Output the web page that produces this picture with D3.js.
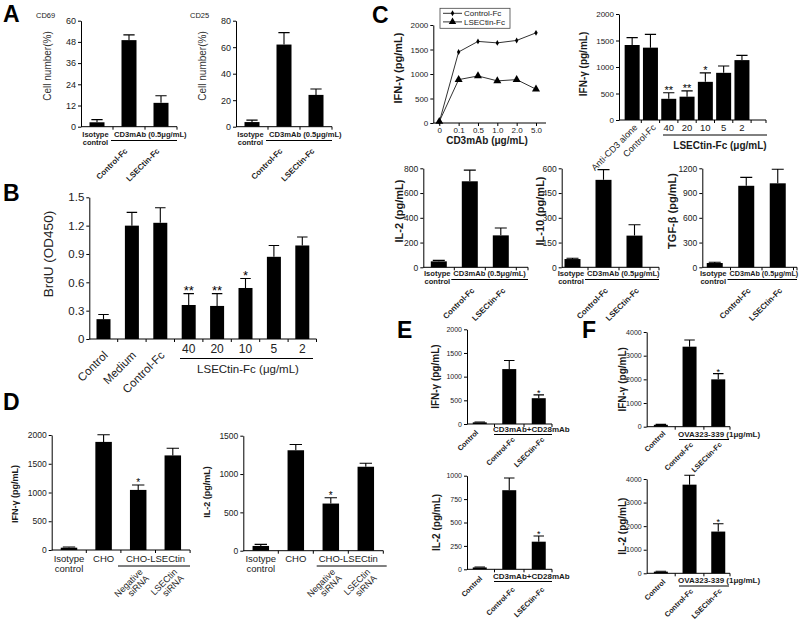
<!DOCTYPE html>
<html><head><meta charset="utf-8">
<script src="https://cdn.jsdelivr.net/npm/d3@7"></script>
<style>body{margin:0;background:#fff}svg{display:block;font-family:"Liberation Sans",Arial,sans-serif}</style>
</head><body><svg id="c" width="800" height="621"></svg>
<script>
// ---------------- DATA ----------------
const A_groups = ["Isotype control", "Control-Fc", "LSECtin-Fc"];
const A_cd69_values = [2.5, 49, 13.5];
const A_cd69_errors = [1.5, 3, 4];
const A_cd69_ticks = [0, 12, 24, 36, 48, 60];
const A_cd25_values = [3.5, 62, 24];
const A_cd25_errors = [1.5, 9, 4.5];
const A_cd25_ticks = [0, 20, 40, 60, 80];

const B_categories = ["Control", "Medium", "Control-Fc", "40", "20", "10", "5", "2"];
const B_values = [0.21, 1.20, 1.23, 0.36, 0.35, 0.54, 0.87, 0.99];
const B_errors = [0.05, 0.14, 0.16, 0.12, 0.13, 0.10, 0.12, 0.09];
const B_sig = ["", "", "", "**", "**", "*", "", ""];
const B_ticks = [0, 0.3, 0.6, 0.9, 1.2, 1.5];

const C_dose = ["0", "0.1", "0.5", "1.0", "2.0", "5.0"];
const C_series = ["Control-Fc", "LSECtin-Fc"];
const C_controlFc = [20, 1450, 1665, 1635, 1685, 1840];
const C_lsectinFc = [30, 885, 960, 860, 885, 690];
const C_ifn_ticks = [0, 500, 1000, 1500, 2000];

const C_conc_categories = ["Anti-CD3 alone", "Control-Fc", "40", "20", "10", "5", "2"];
const C_conc_values = [1415, 1365, 400, 440, 720, 890, 1130];
const C_conc_errors = [140, 250, 115, 110, 170, 130, 90];
const C_conc_sig = ["", "", "**", "**", "*", "", ""];

const C_il2_values = [48, 695, 258];
const C_il2_errors = [8, 90, 60];
const C_il2_ticks = [0, 200, 400, 600, 800];
const C_il10_values = [50, 530, 192];
const C_il10_errors = [5, 62, 66];
const C_il10_ticks = [0, 150, 300, 450, 600];
const C_tgf_values = [52, 988, 1018];
const C_tgf_errors = [10, 102, 170];
const C_tgf_ticks = [0, 300, 600, 900, 1200];

const D_groups = ["Isotype control", "CHO", "Negative siRNA", "LSECtin siRNA"];
const D_ifn_values = [40, 1880, 1045, 1645];
const D_ifn_errors = [12, 125, 85, 125];
const D_ifn_sig = ["", "", "*", ""];
const D_ifn_ticks = [0, 500, 1000, 1500, 2000];
const D_il2_values = [62, 1310, 615, 1095];
const D_il2_errors = [20, 75, 75, 45];
const D_il2_sig = ["", "", "*", ""];
const D_il2_ticks = [0, 500, 1000, 1500];

const EF_groups = ["Control", "Control-Fc", "LSECtin-Fc"];
const E_ifn_values = [35, 1160, 545];
const E_ifn_errors = [8, 180, 70];
const E_ifn_ticks = [0, 500, 1000, 1500, 2000];
const E_il2_values = [20, 845, 295];
const E_il2_errors = [5, 130, 60];
const E_il2_ticks = [0, 250, 500, 750, 1000];
const F_ifn_values = [80, 3380, 2000];
const F_ifn_errors = [20, 280, 240];
const F_il2_values = [70, 3760, 1770];
const F_il2_errors = [20, 400, 330];
const F_ticks = [0, 1000, 2000, 3000, 4000];
const EF_sig = ["", "", "*"];

// ---------------- HELPERS ----------------
const svg = d3.select("#c");
const INK = "#1a1a1a";

function txt(g, x, y, s, o = {}) {
  const t = g.append("text").attr("x", x).attr("y", y).text(s)
    .attr("font-size", o.size || 9).attr("font-weight", o.weight || "normal")
    .attr("text-anchor", o.anchor || "start").attr("fill", o.fill || INK);
  if (o.rotate != null) t.attr("transform", `rotate(${o.rotate},${x},${y})`);
  return t;
}
function hline(g, x1, x2, y) {
  g.append("line").attr("x1", x1).attr("x2", x2).attr("y1", y).attr("y2", y)
    .attr("stroke", "#000").attr("stroke-width", 1);
}

function barPanel(o) {
  const g = svg.append("g");
  const y = d3.scaleLinear().domain([0, o.yMax]).range([o.y0, o.y1]);
  const n = o.cats.length;
  const x = d3.scaleBand().domain(o.cats).range([o.bx0, o.bx0 + o.step * n]);
  const cx = c => x(c) + x.bandwidth() / 2;
  const idx = o.cats.map((c, i) => i);
  g.selectAll("rect.bar").data(idx).join("rect").attr("class", "bar")
    .attr("x", i => cx(o.cats[i]) - o.barW / 2).attr("width", o.barW)
    .attr("y", i => y(o.vals[i])).attr("height", i => o.y0 - y(o.vals[i]))
    .attr("fill", "#000");
  const capW = o.barW * 0.75;
  g.selectAll("path.err").data(idx).join("path").attr("class", "err")
    .attr("d", i => {
      const xc = cx(o.cats[i]), yt = y(o.vals[i] + o.errs[i]), yb = y(o.vals[i]);
      return `M${xc},${yb}V${yt}M${xc - capW / 2},${yt}H${xc + capW / 2}`;
    })
    .attr("stroke", "#000").attr("stroke-width", 1.1).attr("fill", "none");
  if (o.sig) {
    g.selectAll("text.sig").data(idx.filter(i => o.sig[i])).join("text").attr("class", "sig")
      .attr("x", i => cx(o.cats[i])).attr("y", i => y(o.vals[i] + o.errs[i]) + 1 + (o.sigDy || 0))
      .attr("text-anchor", "middle").attr("font-size", o.sigSize || 10).attr("fill", "#000")
      .text(i => o.sig[i]);
  }
  const ya = d3.axisLeft(y).tickValues(o.ticks).tickSize(3).tickSizeOuter(0).tickPadding(2)
    .tickFormat(o.fmt || d3.format("d"));
  const yg = g.append("g").attr("transform", `translate(${o.ax},0)`).call(ya)
    .attr("font-family", null).attr("font-size", o.tickSize);
  yg.selectAll("text").attr("fill", INK);
  yg.selectAll("line,path").attr("stroke", "#000");
  hline(g, o.ax, o.axEnd, o.y0);
  const bounds = d3.range(1, n + 1).map(i => o.bx0 + o.step * i).filter(v => v <= o.axEnd + 0.5);
  if (o.axEnd - bounds[bounds.length - 1] > 1) bounds.push(o.axEnd);
  g.selectAll("line.xt").data(bounds).join("line").attr("class", "xt")
    .attr("x1", d => d).attr("x2", d => d).attr("y1", o.y0).attr("y2", o.y0 + 3)
    .attr("stroke", "#000");
  return { g, x, y, cx };
}

// ---------------- PANEL LETTERS ----------------
[["A", 3, 22], ["B", 3, 201], ["C", 372, 23], ["D", 3, 410], ["E", 397, 338], ["F", 582, 338]]
  .forEach(([l, x, y]) => txt(svg, x, y, l, { size: 23, weight: "bold", fill: "#000" }));

// ---------------- PANEL A ----------------
function panelA(vals, errs, ticks, yMax, ax, title, titleX, ylabX) {
  const p = barPanel({ cats: A_groups, vals, errs, ticks, yMax, ax, y0: 126.7, y1: 20.7,
    bx0: ax, step: 32, barW: 15, axEnd: ax + 96, tickSize: 9 });
  txt(svg, titleX, 17.5, title, { size: 7.5 });
  txt(svg, ylabX, 66, "Cell number(%)", { size: 10, anchor: "middle", rotate: -90, fill: "#333" });
  const c0 = p.cx(A_groups[0]);
  txt(svg, c0 - 1.5, 137, "Isotype", { size: 7.5, weight: "bold", anchor: "middle" });
  txt(svg, c0 - 1.5, 145, "control", { size: 7.5, weight: "bold", anchor: "middle" });
  txt(svg, ax + 33, 137, "CD3mAb (0.5\u03bcg/mL)", { size: 7.6, weight: "bold" });
  hline(svg, ax + 30, ax + 96, 140.5);
  [1, 2].forEach(i => txt(svg, p.cx(A_groups[i]) - 1, 151.5, A_groups[i],
    { size: 8, weight: "bold", anchor: "end", rotate: -45 }));
}
panelA(A_cd69_values, A_cd69_errors, A_cd69_ticks, 60, 81, "CD69", 36, 51);
panelA(A_cd25_values, A_cd25_errors, A_cd25_ticks, 80, 236, "CD25", 190, 206);

// ---------------- PANEL B ----------------
{
  const p = barPanel({ cats: B_categories, vals: B_values, errs: B_errors, sig: B_sig, sigSize: 13,
    ticks: B_ticks, yMax: 1.5, ax: 89.3, y0: 339, y1: 197.3, bx0: 89.3, step: 28.4, barW: 14,
    axEnd: 316.5, tickSize: 11.5, fmt: d => d === 0 ? "0" : d.toFixed(1) });
  txt(svg, 53, 254, "BrdU (OD450)", { size: 13.5, anchor: "middle", rotate: -90, fill: "#222" });
  B_categories.forEach((c, i) => {
    if (i < 3) txt(svg, p.cx(c) + 5, 356, c, { size: 11.5, anchor: "end", rotate: -45, fill: "#222" });
    else txt(svg, p.cx(c), 353, c, { size: 12, anchor: "middle", fill: "#222" });
  });
  hline(svg, 180, 313, 358.5);
  txt(svg, 248, 373, "LSECtin-Fc (\u03bcg/mL)", { size: 11.5, anchor: "middle", fill: "#222" });
}

// ---------------- PANEL C: line chart ----------------
{
  const g = svg.append("g");
  const x = d3.scalePoint().domain(C_dose).range([439.3, 536]);
  const y = d3.scaleLinear().domain([0, 2000]).range([123, 25]);
  const ya = d3.axisLeft(y).tickValues(C_ifn_ticks).tickSize(3).tickSizeOuter(0).tickPadding(2)
    .tickFormat(d3.format("d"));
  const yg = g.append("g").attr("transform", "translate(433.3,0)").call(ya)
    .attr("font-family", null).attr("font-size", 8);
  yg.selectAll("text").attr("fill", INK);
  hline(g, 433.3, 546, 123);
  const xa = d3.axisBottom(x).tickSize(3).tickSizeOuter(0).tickPadding(0);
  const xg = g.append("g").attr("transform", "translate(0,123)").call(xa)
    .attr("font-family", null).attr("font-size", 8);
  xg.select(".domain").remove();
  xg.selectAll("text").attr("fill", INK).attr("dy", null).attr("y", 10);
  const series = [C_controlFc, C_lsectinFc];
  const line = d3.line().x((d, i) => x(C_dose[i])).y(d => y(d));
  series.forEach((s, k) => {
    g.append("path").attr("d", line(s)).attr("fill", "none").attr("stroke", "#333").attr("stroke-width", 1);
    g.selectAll(null).data(s).join("path")
      .attr("transform", (d, i) => `translate(${x(C_dose[i])},${y(d)})`)
      .attr("d", d3.symbol(k === 0 ? d3.symbolDiamond : d3.symbolTriangle, k === 0 ? 10 : 28)())
      .attr("fill", "#000");
  });
  // legend
  g.append("rect").attr("x", 440).attr("y", 8.3).attr("width", 70).attr("height", 20)
    .attr("fill", "#fff").attr("stroke", "#444").attr("stroke-width", 0.8);
  C_series.forEach((s, k) => {
    const ly = 13.3 + k * 8.6;
    g.append("line").attr("x1", 443).attr("x2", 462).attr("y1", ly).attr("y2", ly).attr("stroke", "#333");
    g.append("path").attr("transform", `translate(452.5,${ly})`)
      .attr("d", d3.symbol(k === 0 ? d3.symbolDiamond : d3.symbolTriangle, k === 0 ? 10 : 24)())
      .attr("fill", "#000");
    txt(g, 464, ly + 2.8, s, { size: 8 });
  });
  txt(svg, 402, 68, "IFN-\u03b3 (pg/mL)", { size: 11, weight: "bold", anchor: "middle", rotate: -90 });
  txt(svg, 487, 143.5, "CD3mAb (\u03bcg/mL)", { size: 10, weight: "bold", anchor: "middle" });
}

// ---------------- PANEL C: concentration bars ----------------
{
  const p = barPanel({ cats: C_conc_categories, vals: C_conc_values, errs: C_conc_errors,
    sig: C_conc_sig, sigSize: 11, ticks: C_ifn_ticks, yMax: 2000, ax: 619, y0: 120, y1: 14,
    bx0: 623, step: 18.3, barW: 15, axEnd: 766, tickSize: 8 });
  txt(svg, 587, 64, "IFN-\u03b3 (pg/mL)", { size: 10, weight: "bold", anchor: "middle", rotate: -90 });
  C_conc_categories.forEach((c, i) => {
    if (i < 2) txt(svg, p.cx(c) + 6, 128, c, { size: 9, anchor: "end", rotate: -45 });
    else txt(svg, p.cx(c), 131, c, { size: 9.5, anchor: "middle" });
  });
  hline(svg, 663, 767, 135);
  txt(svg, 720, 149, "LSECtin-Fc (\u03bcg/mL)", { size: 10, weight: "bold", anchor: "middle" });
}

// ---------------- PANEL C: cytokine bars ----------------
function cytoPanel(vals, errs, ticks, yMax, ax, bx0, step, axEnd, ylab, ylabX, stimSize) {
  const p = barPanel({ cats: A_groups, vals, errs, ticks, yMax, ax, y0: 267.3, y1: 168.3,
    bx0, step, barW: 16, axEnd, tickSize: 8.5 });
  txt(svg, ylabX, 211, ylab, { size: 11, weight: "bold", anchor: "middle", rotate: -90 });
  const c0 = p.cx(A_groups[0]);
  txt(svg, c0 - 1.5, 275.5, "Isotype", { size: 7.6, weight: "bold", anchor: "middle" });
  txt(svg, c0 - 1.5, 284, "control", { size: 7.6, weight: "bold", anchor: "middle" });
  txt(svg, bx0 + step - 1, 275.5, "CD3mAb (0.5\u03bcg/mL)", { size: stimSize, weight: "bold" });
  hline(svg, bx0 + step - 3, axEnd, 279.5);
  [1, 2].forEach(i => txt(svg, p.cx(A_groups[i]) + 5, 291, A_groups[i],
    { size: 8, weight: "bold", anchor: "end", rotate: -45 }));
}
cytoPanel(C_il2_values, C_il2_errors, C_il2_ticks, 800, 423.3, 423.3, 31, 528, "IL-2 (pg/mL)", 403, 7.6);
cytoPanel(C_il10_values, C_il10_errors, C_il10_ticks, 600, 561.7, 557, 31, 659, "IL-10 (pg/mL)", 544, 7.6);
cytoPanel(C_tgf_values, C_tgf_errors, C_tgf_ticks, 1200, 702.3, 699, 31.5, 797, "TGF-\u03b2 (pg/mL)", 676, 7.2);

// ---------------- PANEL D ----------------
function panelD(vals, errs, sig, ticks, yMax, ax, y0, y1, step, axEnd, ylab, ylabX, ylabY, ulX1, ulX2) {
  const p = barPanel({ cats: D_groups, vals, errs, sig, sigSize: 10, ticks, yMax, ax, y0, y1,
    bx0: ax, step, barW: 16.5, axEnd, tickSize: 8.5 });
  txt(svg, ylabX, ylabY, ylab, { size: 9, weight: "bold", anchor: "middle", rotate: -90 });
  const c = D_groups.map(p.cx);
  txt(svg, c[0], 561.5, "Isotype", { size: 9.5, anchor: "middle" });
  txt(svg, c[0], 572, "control", { size: 9.5, anchor: "middle" });
  txt(svg, c[1], 561.5, "CHO", { size: 9.5, anchor: "middle" });
  txt(svg, (c[2] + c[3]) / 2, 561.5, "CHO-LSECtin", { size: 9.5, anchor: "middle" });
  hline(svg, ulX1, ulX2, 566);
  [2, 3].forEach(i => {
    const parts = D_groups[i].split(" ");
    const x = c[i] + 5, y = 572.5;
    const t = svg.append("text").attr("transform", `rotate(-45,${x},${y})`)
      .attr("font-size", 9).attr("text-anchor", "end").attr("fill", INK);
    parts.forEach((s, k) => t.append("tspan").attr("x", x).attr("y", y + k * 9).text(s));
  });
}
panelD(D_ifn_values, D_ifn_errors, D_ifn_sig, D_ifn_ticks, 2000, 51.7, 550, 435, 34.6, 190,
  "IFN-\u03b3 (pg/mL)", 18, 494, 118, 190);
panelD(D_il2_values, D_il2_errors, D_il2_sig, D_il2_ticks, 1500, 243.3, 550.7, 435.7, 35, 383.3,
  "IL-2 (pg/mL)", 210, 492, 316.7, 386.7);

// ---------------- PANELS E & F ----------------
function efPanel(vals, errs, ticks, yMax, ax, y0, y1, bx0, step, axEnd, ylab, ylabX,
                 stimText, stimX, stimY, ulX2, ctrlDx, ctrlY, fcDx, fcY) {
  const p = barPanel({ cats: EF_groups, vals, errs, sig: EF_sig, sigSize: 9, ticks, yMax, ax, y0, y1,
    bx0, step, barW: 14, axEnd, tickSize: 7 });
  txt(svg, ylabX, (y0 + y1) / 2, ylab, { size: 10, weight: "bold", anchor: "middle", rotate: -90 });
  txt(svg, p.cx(EF_groups[0]) + ctrlDx, ctrlY, EF_groups[0],
    { size: 7.3, weight: "bold", anchor: "end", rotate: -45 });
  txt(svg, stimX, stimY, stimText, { size: 8, weight: "bold" });
  hline(svg, stimX + 1, ulX2, stimY + 3);
  [1, 2].forEach(i => txt(svg, p.cx(EF_groups[i]) + fcDx, fcY, EF_groups[i],
    { size: 7.3, weight: "bold", anchor: "end", rotate: -45 }));
}
efPanel(E_ifn_values, E_ifn_errors, E_ifn_ticks, 2000, 467, 424, 329.3, 465, 29.5, 552,
  "IFN-\u03b3 (pg/mL)", 439.5, "CD3mAb+CD28mAb", 493, 431.5, 552, -1, 433, 6, 440);
efPanel(E_il2_values, E_il2_errors, E_il2_ticks, 1000, 467, 569.3, 475.7, 465, 29.5, 552,
  "IL-2 (pg/mL)", 439.5, "CD3mAb+CD28mAb", 493, 578.5, 552, 3, 579, 6, 590);
efPanel(F_ifn_values, F_ifn_errors, F_ticks, 4000, 646.7, 426.7, 332, 646.5, 28.7, 730,
  "IFN-\u03b3 (pg/mL)", 626, "OVA323-339 (1\u03bcg/mL)", 678, 436.5, 729, 5, 434, 4, 445);
efPanel(F_il2_values, F_il2_errors, F_ticks, 4000, 646.7, 573.3, 479, 646.5, 28.7, 730,
  "IL-2 (pg/mL)", 626, "OVA323-339 (1\u03bcg/mL)", 678, 583, 729, 5, 582.4, 4, 591.5);
</script></body></html>
